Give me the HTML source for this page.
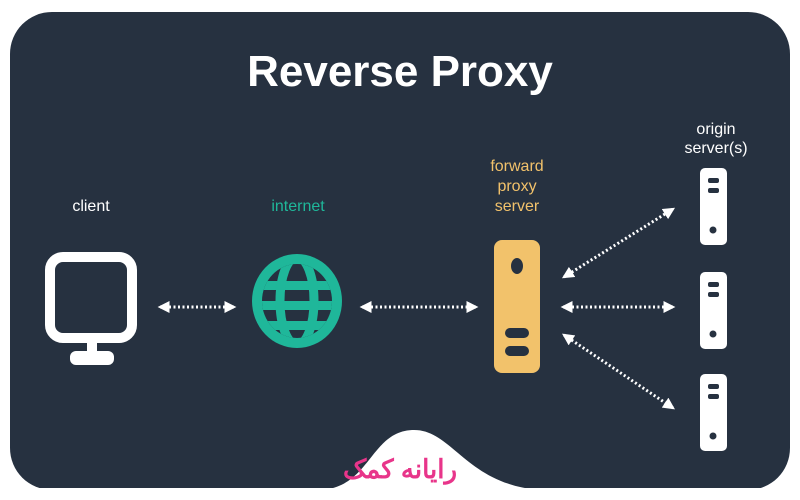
<!DOCTYPE html>
<html><head><meta charset="utf-8"><style>
body{margin:0;width:800px;height:500px;background:#fff;overflow:hidden}
svg{display:block}
text{font-family:"Liberation Sans",sans-serif}
</style></head><body>
<svg width="800" height="500" viewBox="0 0 800 500">
<defs>
<marker id="a" viewBox="0 0 10 10" refX="8" refY="5" markerWidth="4" markerHeight="4" orient="auto-start-reverse"><path d="M0,0 L10,5 L0,10 z" fill="#fff"/></marker>
<clipPath id="g"><ellipse cx="297" cy="301" rx="35" ry="37"/></clipPath>
</defs>
<rect x="0" y="0" width="800" height="500" fill="#fff"/>
<rect x="10" y="12" width="780" height="478" rx="42" fill="#263140"/>
<path d="M320,490 C370,488 370,432 412,430 C452,428 465,484 540,490 Z" fill="#fff"/>
<rect x="0" y="488" width="800" height="12" fill="#fff"/>
<text x="400" y="86" text-anchor="middle" font-size="44" font-weight="bold" fill="#fff">Reverse Proxy</text>
<text x="91" y="211" text-anchor="middle" font-size="16" fill="#fff">client</text>
<text x="298" y="211" text-anchor="middle" font-size="16" fill="#1fb79a">internet</text>
<g font-size="16" fill="#f2c26b" text-anchor="middle"><text x="517" y="171">forward</text><text x="517" y="191">proxy</text><text x="517" y="211">server</text></g>
<g font-size="16" fill="#fff" text-anchor="middle"><text x="716" y="134">origin</text><text x="716" y="153">server(s)</text></g>
<rect x="50" y="257" width="82" height="81" rx="13" fill="none" stroke="#fff" stroke-width="10"/>
<rect x="87" y="340" width="10" height="15" fill="#fff"/>
<rect x="70" y="351" width="44" height="14" rx="6" fill="#fff"/>
<ellipse cx="297" cy="301" rx="45" ry="47" fill="#1fb79a"/>
<ellipse cx="297" cy="301" rx="35" ry="37" fill="#263140"/>
<g clip-path="url(#g)" fill="#1fb79a">
<rect x="250" y="281" width="95" height="9"/>
<rect x="250" y="301" width="95" height="9"/>
<rect x="250" y="321" width="95" height="9"/>
<ellipse cx="297" cy="301" rx="17" ry="44" fill="none" stroke="#1fb79a" stroke-width="9"/>
</g>
<rect x="494" y="240" width="46" height="133" rx="8" fill="#f2c26b"/>
<ellipse cx="517" cy="266" rx="6" ry="8" fill="#263140"/>
<rect x="505" y="328" width="24" height="10" rx="5" fill="#263140"/>
<rect x="505" y="346" width="24" height="10" rx="5" fill="#263140"/>
<g fill="#fff">
<rect x="700" y="168" width="27" height="77" rx="5"/>
<rect x="700" y="272" width="27" height="77" rx="5"/>
<rect x="700" y="374" width="27" height="77" rx="5"/>
</g>
<g fill="#263140">
<rect x="708" y="178" width="11" height="5" rx="2"/><rect x="708" y="188" width="11" height="5" rx="2"/><circle cx="713" cy="230" r="3.5"/>
<rect x="708" y="282" width="11" height="5" rx="2"/><rect x="708" y="292" width="11" height="5" rx="2"/><circle cx="713" cy="334" r="3.5"/>
<rect x="708" y="384" width="11" height="5" rx="2"/><rect x="708" y="394" width="11" height="5" rx="2"/><circle cx="713" cy="436" r="3.5"/>
</g>
<g stroke="#fff" stroke-width="3" stroke-dasharray="2,2.5" fill="none" marker-start="url(#a)" marker-end="url(#a)">
<line x1="160" y1="307" x2="234" y2="307"/>
<line x1="362" y1="307" x2="476" y2="307"/>
<line x1="563" y1="307" x2="673" y2="307"/>
<line x1="564" y1="277" x2="673" y2="209"/>
<line x1="564" y1="335" x2="673" y2="408"/>
</g>
<text x="400" y="478" text-anchor="middle" font-size="26" font-weight="bold" fill="#e8358a" font-family="'Liberation Sans','Noto Sans CJK SC',sans-serif">رایانه کمک</text>
</svg>
</body></html>
